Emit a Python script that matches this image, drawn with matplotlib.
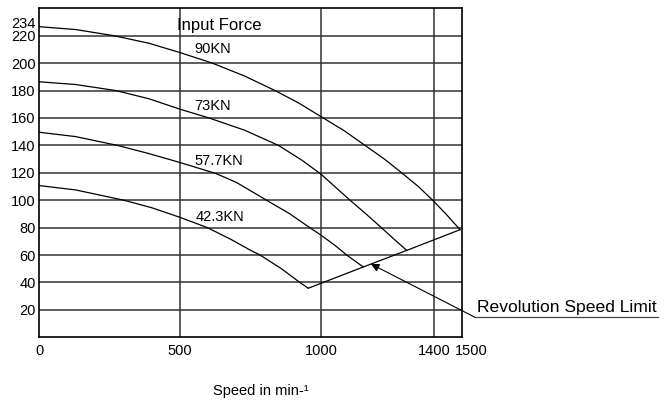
import numpy as np
import matplotlib.pyplot as plt
import matplotlib.transforms as mtransforms

plt.rcParams['font.family'] = ['Liberation Sans', 'DejaVu Sans']

# curves (speed, force)
x_90 = [0, 130, 266, 390, 500, 615, 730, 837, 920, 1000, 1080, 1156, 1225, 1286, 1345, 1396, 1445, 1493]
y_90 = [226.6, 224.5, 220, 214.5, 207.7, 200, 190.5, 180, 171, 161, 151, 140, 130, 120, 110, 100, 89.5, 78.5]

x_73 = [0, 130, 272, 390, 500, 603, 730, 849, 930, 1000, 1103, 1165, 1222, 1265, 1304]
y_73 = [186.4, 184.4, 180, 174, 166.4, 160, 151, 140, 129.5, 119, 100, 89, 78.5, 70.5, 63.4]

x_57 = [0, 130, 278, 390, 500, 627, 700, 807, 890, 960, 1000, 1050, 1091, 1150]
y_57 = [149.6, 146.4, 140, 134, 127.5, 119.5, 113, 100, 90, 80, 74.5, 67, 60, 51.3]

x_42 = [0, 130, 301, 400, 500, 597, 680, 750, 784, 860, 925, 955]
y_42 = [110.7, 107.5, 100, 94.5, 87.5, 80, 71.5, 63.5, 60, 50, 40, 35.8]

limit_x = [955, 1150, 1304, 1493]
limit_y = [35.8, 51.3, 63.4, 78.5]

curve_names = ["90KN", "73KN", "57.7KN", "42.3KN"]
label_pos = [(552, 210), (550, 168.8), (552, 128.7), (555, 87.6)]

xticks = [0, 500, 1000, 1400, 1500]
yticks = [20, 40, 60, 80, 100, 120, 140, 160, 180, 200, 220, 234]
hgrid = [20, 40, 60, 80, 100, 120, 140, 160, 180, 200, 220]
vgrid = [500, 1000, 1400]

fig = plt.figure(figsize=(6.64, 4.0), dpi=100)
ax = fig.add_axes([39 / 664, 62.7 / 400, 423 / 664, 329 / 400])
ax.set_xlim(0, 1500)
ax.set_ylim(0, 240)

for yv in hgrid:
    ax.axhline(yv, color='#333333', lw=1.1, zorder=1)
for xv in vgrid:
    ax.axvline(xv, color='#333333', lw=1.1, zorder=1)

for xs, ys in [(x_90, y_90), (x_73, y_73), (x_57, y_57), (x_42, y_42)]:
    ax.plot(xs, ys, color='black', lw=0.9, zorder=3, solid_joinstyle='round')
ax.plot(limit_x, limit_y, color='black', lw=0.9, zorder=3)

for name, (lx, ly) in zip(curve_names, label_pos):
    ax.text(lx, ly, name, fontsize=10.5, ha='left', va='center', zorder=4)

ax.text(488, 227.2, "Input Force", fontsize=12, ha='left', va='center', zorder=4)

ax.annotate("", xy=(1177, 53.5), xytext=(1546, 14.6),
            arrowprops=dict(arrowstyle='-|>', color='black', lw=0.8,
                            mutation_scale=12, shrinkA=0, shrinkB=0),
            annotation_clip=False, zorder=5)
ax.plot([1546, 2195], [14.6, 14.6], color='#444444', lw=0.9, clip_on=False)
ax.text(1552, 16.3, "Revolution Speed Limit", fontsize=12.6, ha='left',
        va='bottom', clip_on=False)

ax.set_xticks(xticks)
ax.set_xticklabels([str(v) for v in xticks], fontsize=10.5)
ax.set_yticks(yticks)
ax.set_yticklabels([str(v) for v in yticks], fontsize=10.5)
ax.tick_params(length=0)
ax.tick_params(axis='x', pad=5)
ax.tick_params(axis='y', pad=2.5)

# nudge the crowded labels like in the original
lab = ax.get_xticklabels()[-1]
lab.set_transform(lab.get_transform() + mtransforms.ScaledTranslation(9 / 100, 0, fig.dpi_scale_trans))
lab = ax.get_yticklabels()[-1]
lab.set_transform(lab.get_transform() + mtransforms.ScaledTranslation(0, -6 / 100, fig.dpi_scale_trans))

for sp in ax.spines.values():
    sp.set_linewidth(1.2)
    sp.set_color('black')

fig.text(213 / 664, 1 - 390.7 / 400, "Speed in min-\u00b9", fontsize=10.5,
         ha='left', va='center')

fig.savefig("out.png", dpi=100)
